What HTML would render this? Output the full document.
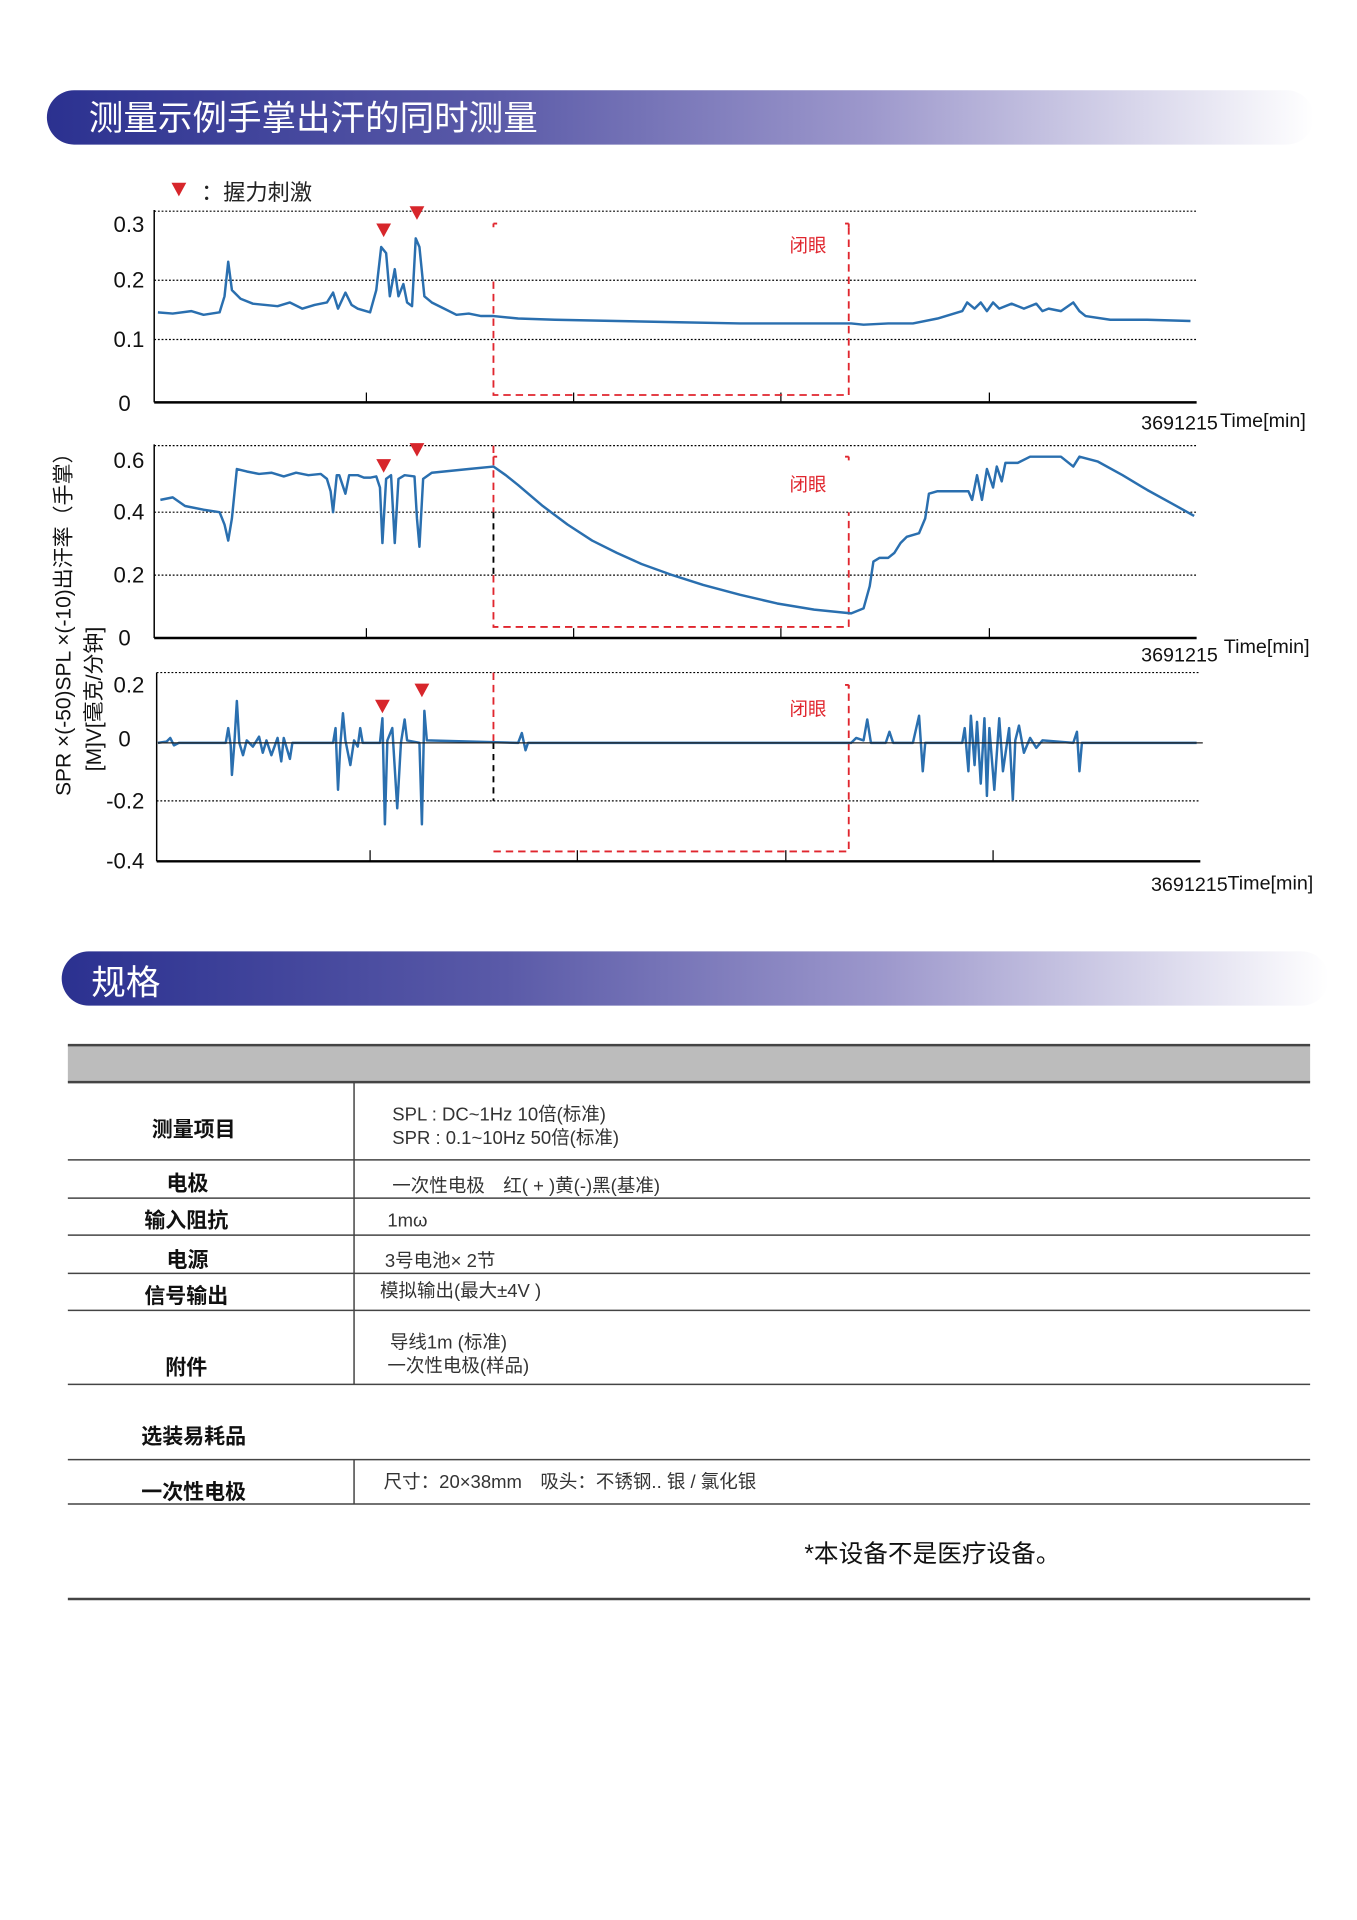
<!DOCTYPE html>
<html><head><meta charset="utf-8"><style>
html,body{margin:0;padding:0;background:#fff;}
svg{display:block;}
text{font-family:"Liberation Sans","Noto Sans CJK SC",sans-serif;}
</style></head><body>
<svg width="1357" height="1920" viewBox="0 0 1100 1556" xmlns="http://www.w3.org/2000/svg">
<defs>
<linearGradient id="g" x1="0" x2="1" y1="0" y2="0">
<stop offset="0" stop-color="#2b3190"/><stop offset="0.35" stop-color="#5a5aa8"/><stop offset="0.65" stop-color="#9d98cc"/><stop offset="1" stop-color="#ffffff"/>
</linearGradient>
</defs>
<!-- header 1 -->
<rect x="38" y="73" width="1027" height="44" rx="22" fill="url(#g)"/>
<text x="72" y="105" font-size="28" fill="#fff">测量示例手掌出汗的同时测量</text>
<!-- legend -->
<polygon points="139,148 151,148 145,159" fill="#d7262b"/>
<text x="163" y="162" font-size="18" fill="#222">：握力刺激</text>

<g stroke="#000" fill="none">
<!-- chart1 -->
<line x1="125" y1="171" x2="970" y2="171" stroke-dasharray="1.5 1.5" stroke-width="1"/>
<line x1="125" y1="227" x2="970" y2="227" stroke-dasharray="1.5 1.5"/>
<line x1="125" y1="275" x2="970" y2="275" stroke-dasharray="1.5 1.5"/>
<line x1="125" y1="170" x2="125" y2="326" stroke-width="1.2"/>
<line x1="125" y1="326" x2="970" y2="326" stroke-width="2"/>
<line x1="297" y1="318" x2="297" y2="326"/><line x1="802" y1="318" x2="802" y2="326"/>
<line x1="465" y1="318" x2="465" y2="326"/><line x1="633" y1="318" x2="633" y2="326"/>
<!-- chart2 -->
<line x1="125" y1="361" x2="970" y2="361" stroke-dasharray="1.5 1.5"/>
<line x1="125" y1="415" x2="970" y2="415" stroke-dasharray="1.5 1.5"/>
<line x1="125" y1="466" x2="970" y2="466" stroke-dasharray="1.5 1.5"/>
<line x1="125" y1="360" x2="125" y2="517" stroke-width="1.2"/>
<line x1="125" y1="517" x2="970" y2="517" stroke-width="2"/>
<line x1="297" y1="509" x2="297" y2="517"/><line x1="802" y1="509" x2="802" y2="517"/>
<line x1="465" y1="509" x2="465" y2="517"/><line x1="633" y1="509" x2="633" y2="517"/>
<!-- chart3 -->
<line x1="127" y1="545" x2="973" y2="545" stroke-dasharray="1.5 1.5"/>
<line x1="127" y1="649" x2="973" y2="649" stroke-dasharray="1.5 1.5"/>
<line x1="127" y1="545" x2="127" y2="698" stroke-width="1.2"/>
<line x1="127" y1="698" x2="973" y2="698" stroke-width="2"/>
<line x1="300" y1="689" x2="300" y2="698"/><line x1="805" y1="689" x2="805" y2="698"/>
<line x1="468" y1="689" x2="468" y2="698"/><line x1="637" y1="689" x2="637" y2="698"/>
<line x1="400" y1="415" x2="400" y2="466" stroke-dasharray="5 4" stroke-width="1.5"/>
<line x1="400" y1="602" x2="400" y2="649" stroke-dasharray="5 4" stroke-width="1.5"/>
</g>
<!-- red boxes -->
<g stroke="#e0262e" fill="none" stroke-width="1.5" stroke-dasharray="6 4">
<path d="M400 181 h3 M400 181 v3 M688 181 h-3 M688 181 v3" stroke-dasharray="none"/>
<path d="M400 228 V320 H688 V181"/>
<path d="M400 370 h3 M400 370 v3 M688 370 h-3 M688 370 v3" stroke-dasharray="none"/>
<path d="M400 361 V415 M400 466 V508 H688 V415"/>
<path d="M688 555 h-3 M688 555 v3" stroke-dasharray="none"/>
<path d="M400 545 V602 M400 690 H688 V555"/>
</g>
<g fill="#e0262e" font-size="15">
<text x="640" y="204">闭眼</text><text x="640" y="398">闭眼</text><text x="640" y="580">闭眼</text>
</g>
<!-- triangles -->
<g fill="#d7262b">
<polygon points="305,181 317,181 311,192"/><polygon points="332,167 344,167 338,178"/>
<polygon points="305,372 317,372 311,383"/><polygon points="332,359 344,359 338,370"/>
<polygon points="304,567 316,567 310,578"/><polygon points="336,554 348,554 342,565"/>
</g>
<!-- series -->
<g stroke="#2a6faf" fill="none" stroke-width="2" stroke-linejoin="round">
<polyline points="128,253 140,254 155,252 165,255 178,253 182,240 185,212 188,235 195,242 205,246 215,247 225,248 235,245 245,250 255,247 265,245 270,237 274,250 280,237 285,247 290,250 300,253 305,235 309,200 313,205 316,240 320,218 323,240 327,230 330,245 334,248 337,193 340,200 344,240 350,245 360,250 370,255 380,254 390,256 400,256 420,258 450,259 500,260 550,261 600,262 650,262 690,262 700,263 720,262 740,262 760,258 780,252 784,245 790,250 795,245 800,252 805,245 810,250 820,246 830,250 840,246 845,252 850,250 860,252 870,245 875,252 880,256 900,259 930,259 965,260"/>
<polyline points="130,405 140,403 150,410 165,413 178,415 182,425 185,438 188,420 190,400 192,380 200,382 210,384 220,383 230,386 240,383 250,385 260,384 265,388 268,398 270,415 273,385 275,385 280,400 283,385 290,385 295,387 300,387 305,386 308,395 310,440 313,388 317,385 320,440 323,388 328,385 336,386 338,420 340,443 343,388 350,383 360,382 380,380 400,378 410,385 420,393 440,410 460,425 480,438 500,448 520,457 545,466 570,474 600,482 630,489 660,494 690,497 700,493 705,475 708,455 713,452 720,452 725,448 730,440 735,435 745,432 750,420 753,400 760,398 785,398 788,405 792,385 796,405 800,380 805,395 808,378 812,390 815,375 825,375 835,370 860,370 870,378 875,370 890,374 910,385 930,397 950,408 968,418"/>
<path d="M128 602 L135 601 L138 598 L141 604 L145 602 L183 602 L185 590 L187 604 L188 628 L190 602 L192 568 L194 602 L197 612 L200 600 L205 605 L210 597 L213 610 L216 600 L220 612 L225 598 L228 617 L230 598 L235 615 L237 602 L270 602 L272 590 L274 640 L276 602 L278 578 L280 600 L284 620 L287 600 L290 605 L292 590 L294 602 L308 602 L310 582 L312 668 L314 600 L318 590 L322 655 L325 602 L328 583 L330 600 L340 602 L342 668 L344 576 L346 600 L420 602 L423 594 L426 608 L428 602 L690 602 L694 598 L700 600 L703 583 L706 602 L718 602 L721 593 L724 602 L740 602 L745 580 L748 625 L750 602 L780 602 L782 590 L785 625 L787 580 L790 620 L792 585 L795 635 L798 582 L800 645 L802 590 L806 640 L810 582 L813 625 L818 590 L821 648 L823 600 L826 588 L830 610 L835 598 L840 606 L845 600 L870 602 L873 593 L875 625 L877 602 L970 602"/>
</g>
<line x1="128" y1="602" x2="975" y2="602" stroke="#222" stroke-width="1"/>
<!-- tick labels -->
<g font-size="18" fill="#111" text-anchor="end">
<text x="117" y="188">0.3</text><text x="117" y="233">0.2</text><text x="117" y="281">0.1</text><text x="106" y="333">0</text>
<text x="117" y="379">0.6</text><text x="117" y="421">0.4</text><text x="117" y="472">0.2</text><text x="106" y="523">0</text>
<text x="117" y="561">0.2</text><text x="106" y="605">0</text><text x="117" y="655">-0.2</text><text x="117" y="704">-0.4</text>
</g>
<g font-size="16" fill="#111">
<text x="925" y="348">3691215</text><text x="989" y="346">Time[min]</text>
<text x="925" y="536">3691215</text><text x="992" y="529">Time[min]</text>
<text x="933" y="722">3691215</text><text x="995" y="721">Time[min]</text>
</g>
<g font-size="17" fill="#111">
<text transform="translate(57,645) rotate(-90)">SPR ×(-50)SPL ×(-10)出汗率（手掌）</text>
<text transform="translate(82,625) rotate(-90)">[M]V[毫克/分钟]</text>
</g>

<!-- header 2 -->
<rect x="50" y="771" width="1027" height="44" rx="22" fill="url(#g)"/>
<text x="74" y="806" font-size="28" fill="#fff">规格</text>

<!-- table -->
<rect x="55" y="847" width="1007" height="30" fill="#bcbcbc"/>
<g stroke="#444" stroke-width="1.2">
<line x1="55" y1="847" x2="1062" y2="847" stroke-width="2"/>
<line x1="55" y1="877" x2="1062" y2="877" stroke-width="2"/>
<line x1="55" y1="940" x2="1062" y2="940"/><line x1="55" y1="971" x2="1062" y2="971"/>
<line x1="55" y1="1001" x2="1062" y2="1001"/><line x1="55" y1="1032" x2="1062" y2="1032"/>
<line x1="55" y1="1062" x2="1062" y2="1062"/><line x1="55" y1="1122" x2="1062" y2="1122"/>
<line x1="55" y1="1183" x2="1062" y2="1183"/><line x1="55" y1="1219" x2="1062" y2="1219"/>
<line x1="287" y1="877" x2="287" y2="1122"/><line x1="287" y1="1183" x2="287" y2="1219"/>
<line x1="55" y1="1296" x2="1062" y2="1296" stroke-width="2"/>
</g>
<g font-size="17" font-weight="bold" fill="#111" text-anchor="middle">
<text x="157" y="921">测量项目</text><text x="152" y="965">电极</text><text x="151" y="995">输入阻抗</text>
<text x="152" y="1027">电源</text><text x="151" y="1056">信号输出</text><text x="151" y="1114">附件</text>
<text x="157" y="1170">选装易耗品</text><text x="157" y="1215">一次性电极</text>
</g>
<g font-size="15" fill="#333">
<text x="318" y="908">SPL : DC~1Hz 10倍(标准)</text>
<text x="318" y="927">SPR : 0.1~10Hz 50倍(标准)</text>
<text x="318" y="966">一次性电极　红( + )黄(-)黑(基准)</text>
<text x="314" y="994">1mω</text>
<text x="312" y="1027">3号电池× 2节</text>
<text x="308" y="1051">模拟输出(最大±4V )</text>
<text x="316" y="1093">导线1m (标准)</text>
<text x="314" y="1112">一次性电极(样品)</text>
<text x="311" y="1206">尺寸：20×38mm　吸头：不锈钢.. 银 / 氯化银</text>
</g>
<text x="652" y="1266" font-size="20" fill="#111">*本设备不是医疗设备。</text>
</svg>
</body></html>
